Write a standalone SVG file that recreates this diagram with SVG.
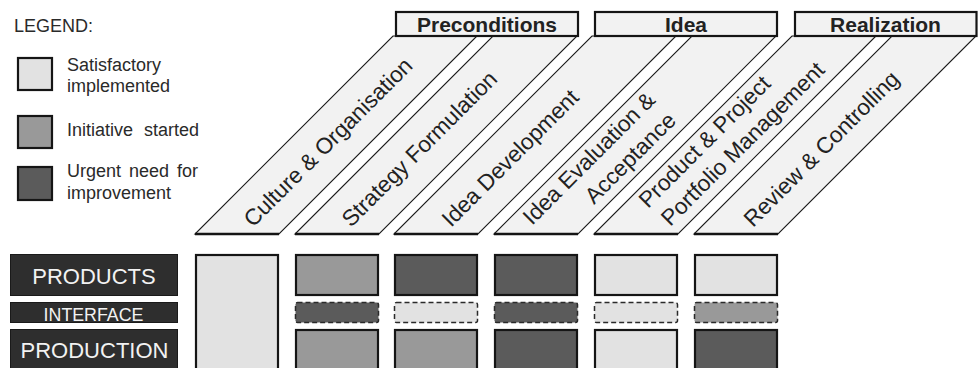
<svg xmlns="http://www.w3.org/2000/svg" width="979" height="368" viewBox="0 0 979 368">
<style>
  .lg { font-family: "Liberation Sans", Arial, sans-serif; font-size: 18px; fill: #2a2a2a; }
  .hdr rect { fill: #f2f2f2; stroke: #151515; stroke-width: 2.2; }
  .hdr text { font-family: "Liberation Sans", Arial, sans-serif; font-size: 21px; font-weight: bold; fill: #222; text-anchor: middle; }
  .par polygon { fill: #f2f2f2; stroke: #1a1a1a; stroke-width: 1.1; }
  .par line { stroke: #151515; stroke-width: 2.6; }
  .par text { font-family: "Liberation Sans", Arial, sans-serif; font-size: 22.5px; fill: #222; }
  .cell { stroke: #151515; stroke-width: 2.2; }
  .dash { stroke: #2a2a2a; stroke-width: 1.5; stroke-dasharray: 5 3; }
  .l { fill: #e2e2e2; }
  .m { fill: #999999; }
  .d { fill: #5b5b5b; }
  .lab rect { fill: #2e2e2e; stroke: #1a1a1a; stroke-width: 1; }
  .lab text { font-family: "Liberation Sans", Arial, sans-serif; fill: #f2f2f2; text-anchor: middle; }
</style>

<g id="legend">
  <text class="lg" x="14" y="32">LEGEND:</text>
  <rect class="cell l" x="18" y="58" width="34" height="32"/>
  <text class="lg" x="67" y="70.5">Satisfactory</text>
  <text class="lg" x="67" y="91.5">implemented</text>
  <rect class="cell m" x="18" y="116" width="34" height="32"/>
  <text class="lg" x="67" y="136" word-spacing="6">Initiative started</text>
  <rect class="cell d" x="18" y="167" width="34" height="33"/>
  <text class="lg" x="67" y="177" word-spacing="3">Urgent need for</text>
  <text class="lg" x="67" y="199">improvement</text>
</g>

<g id="phase-culture" class="par">
  <polygon points="195,234 279,234 477,36 393,36"/>
  <line x1="195" y1="234" x2="279" y2="234"/>
  <text transform="translate(253,228) rotate(-45)">Culture &amp; Organisation</text>
</g>
<g id="phase-strategy" class="par">
  <polygon points="295,234 379,234 577,36 493,36"/>
  <line x1="295" y1="234" x2="379" y2="234"/>
  <text transform="translate(351,228) rotate(-45)">Strategy Formulation</text>
</g>
<g id="phase-idea-dev" class="par">
  <polygon points="394,234 478,234 676,36 592,36"/>
  <line x1="394" y1="234" x2="478" y2="234"/>
  <text transform="translate(451,228) rotate(-45)">Idea Development</text>
</g>
<g id="phase-idea-eval" class="par">
  <polygon points="494,234 578,234 776,36 692,36"/>
  <line x1="494" y1="234" x2="578" y2="234"/>
  <text transform="translate(532,226) rotate(-45)">Idea Evaluation &amp;<tspan x="176.4" y="29" text-anchor="end">Acceptance</tspan></text>
</g>
<g id="phase-portfolio" class="par">
  <polygon points="594,234 678,234 876,36 792,36"/>
  <line x1="594" y1="234" x2="678" y2="234"/>
  <text transform="translate(648,209) rotate(-45)">Product &amp; Project<tspan x="3" y="28.5">Portfolio Management</tspan></text>
</g>
<g id="phase-review" class="par">
  <polygon points="694,234 778,234 976,36 892,36"/>
  <line x1="694" y1="234" x2="778" y2="234"/>
  <text transform="translate(753,228) rotate(-45)">Review &amp; Controlling</text>
</g>

<g id="hdr-preconditions" class="hdr">
  <rect x="396" y="12" width="182" height="24"/>
  <text x="487" y="32">Preconditions</text>
</g>
<g id="hdr-idea" class="hdr">
  <rect x="595" y="12" width="182" height="24"/>
  <text x="686" y="32">Idea</text>
</g>
<g id="hdr-realization" class="hdr">
  <rect x="795" y="12" width="181.5" height="24"/>
  <text x="885.5" y="32">Realization</text>
</g>

<g id="label-products" class="lab">
  <rect x="10.5" y="254.5" width="167" height="41"/>
  <text x="94" y="284" font-size="22">PRODUCTS</text>
</g>
<g id="label-interface" class="lab">
  <rect x="10.5" y="302.5" width="167" height="20"/>
  <text x="93.5" y="320.5" font-size="17.8">INTERFACE</text>
</g>
<g id="label-production" class="lab">
  <rect x="10.5" y="329.5" width="167" height="45"/>
  <text x="94.5" y="358" font-size="22">PRODUCTION</text>
</g>

<g id="col-culture">
  <rect class="cell l" x="196" y="255" width="82" height="120"/>
</g>
<g id="col-strategy">
  <rect class="cell m" x="296" y="255" width="82" height="40"/>
  <rect class="dash d" x="295.5" y="302.5" width="83" height="20" rx="2"/>
  <rect class="cell m" x="296" y="330" width="82" height="45"/>
</g>
<g id="col-idea-dev">
  <rect class="cell d" x="395" y="255" width="82" height="40"/>
  <rect class="dash l" x="394.5" y="302.5" width="83" height="20" rx="2"/>
  <rect class="cell m" x="395" y="330" width="82" height="45"/>
</g>
<g id="col-idea-eval">
  <rect class="cell d" x="495" y="255" width="82" height="40"/>
  <rect class="dash d" x="494.5" y="302.5" width="83" height="20" rx="2"/>
  <rect class="cell d" x="495" y="330" width="82" height="45"/>
</g>
<g id="col-portfolio">
  <rect class="cell l" x="595" y="255" width="82" height="40"/>
  <rect class="dash l" x="594.5" y="302.5" width="83" height="20" rx="2"/>
  <rect class="cell l" x="595" y="330" width="82" height="45"/>
</g>
<g id="col-review">
  <rect class="cell l" x="695" y="255" width="82" height="40"/>
  <rect class="dash m" x="694.5" y="302.5" width="83" height="20" rx="2"/>
  <rect class="cell d" x="695" y="330" width="82" height="45"/>
</g>
</svg>
